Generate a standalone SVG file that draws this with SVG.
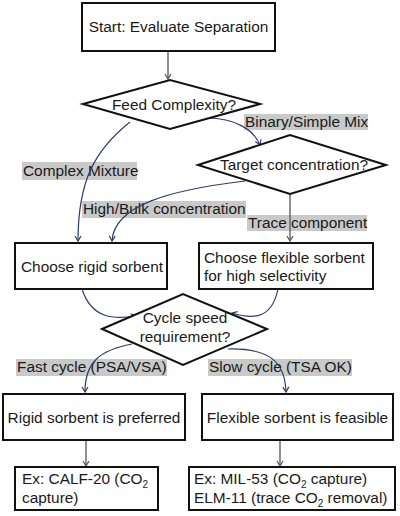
<svg xmlns="http://www.w3.org/2000/svg" width="400" height="516" viewBox="0 0 400 516">
<defs>
<marker id="ag" markerWidth="8" markerHeight="8" refX="6" refY="4" orient="auto" markerUnits="userSpaceOnUse"><path d="M1,1 L6,4 L1,7" fill="none" stroke="#555" stroke-width="1.2"/></marker>
<marker id="ab" markerWidth="8" markerHeight="8" refX="6" refY="4" orient="auto" markerUnits="userSpaceOnUse"><path d="M1,1 L6,4 L1,7" fill="none" stroke="#2f3d6b" stroke-width="1.2"/></marker>
</defs>
<style>
text{font-family:"Liberation Sans",Arial,sans-serif;font-size:15.4px;fill:#1a1a1a}
.box{fill:#fff;stroke:#111;stroke-width:2}
.lbl{fill:#c9c9c9}
.g{fill:none;stroke:#555;stroke-width:1.3;marker-end:url(#ag)}
.b{fill:none;stroke:#2f3d6b;stroke-width:1.2;marker-end:url(#ab)}
.m{text-anchor:middle}
</style>
<g id="labels">
<rect class="lbl" x="244" y="114" width="124" height="16"/>
<text x="245" y="127">Binary/Simple Mix</text>
<rect class="lbl" x="22" y="162" width="115" height="18"/>
<text x="23" y="176">Complex Mixture</text>
<rect class="lbl" x="82" y="201" width="164" height="17"/>
<text x="83" y="214">High/Bulk concentration</text>
<rect class="lbl" x="247" y="215" width="120" height="16"/>
<text x="248" y="228">Trace component</text>
<rect class="lbl" x="16" y="359" width="151" height="17"/>
<text x="17" y="372">Fast cycle (PSA/VSA)</text>
<rect class="lbl" x="208" y="359" width="144" height="17"/>
<text x="209" y="372">Slow cycle (TSA OK)</text>
</g>
<g id="connectors">
<path class="g" d="M168,51 L168,79"/>
<path class="b" d="M207,118 C235,118 254,130 260,145"/>
<path class="b" d="M130,122 C95,150 78,180 78,241"/>
<path class="b" d="M245,181 C170,190 114,205 112,241"/>
<path class="g" d="M290,194 L290,241"/>
<path class="b" d="M82,289 C92,320 115,319 136,316"/>
<path class="b" d="M278,289 C272,318 255,320 232,313"/>
<path class="b" d="M132,344 C100,350 85,362 85,392"/>
<path class="b" d="M228,349 C270,348 285,362 286,392"/>
<path class="g" d="M86,440 L86,466"/>
<path class="g" d="M280,440 L280,466"/>
</g>
<g id="start"><rect class="box" x="82" y="3" width="193" height="48"/><text class="m" x="178.5" y="32">Start: Evaluate Separation</text></g>
<g id="feed"><polygon class="box" points="83,104 170,80 260,104 170,129"/><text class="m" x="174" y="110">Feed Complexity?</text></g>
<g id="target"><polygon class="box" points="198,165 290,135 386,165 290,194"/><text class="m" x="294" y="170">Target concentration?</text></g>
<g id="rigid"><rect class="box" x="15" y="243" width="152" height="46"/><text class="m" x="92" y="272">Choose rigid sorbent</text></g>
<g id="flexible"><rect class="box" x="199" y="243" width="174" height="46"/><text x="204" y="263">Choose flexible sorbent</text><text x="204" y="281">for high selectivity</text></g>
<g id="cycle"><polygon class="box" points="102,329 183,294 267,329 183,365"/><text class="m" x="185" y="323">Cycle speed</text><text class="m" x="185" y="342">requirement?</text></g>
<g id="rigidpref"><rect class="box" x="3" y="394" width="182" height="46"/><text class="m" x="94" y="423">Rigid sorbent is preferred</text></g>
<g id="flexfeas"><rect class="box" x="202" y="394" width="191" height="46"/><text class="m" x="297.5" y="423">Flexible sorbent is feasible</text></g>
<g id="calf"><rect class="box" x="15" y="467" width="143" height="43"/><text x="22" y="484">Ex: CALF-20 (CO<tspan font-size="10" dy="4">2</tspan></text><text x="22" y="503">capture)</text></g>
<g id="mil"><rect class="box" x="189" y="467" width="206" height="43"/><text x="194" y="484">Ex: MIL-53 (CO<tspan font-size="10" dy="4">2</tspan><tspan dy="-4"> capture)</tspan></text><text x="194" y="503">ELM-11 (trace CO<tspan font-size="10" dy="4">2</tspan><tspan dy="-4"> removal)</tspan></text></g>
</svg>
